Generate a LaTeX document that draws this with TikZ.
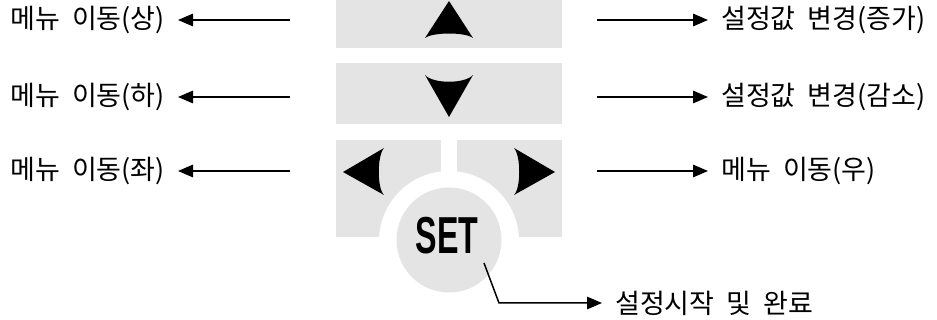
\documentclass[tikz,border=0pt]{standalone}
\usepackage{graphicx}
\usepackage{fontspec}
\setmainfont{Noto Sans CJK KR}
\newfontfamily\setfont{Liberation Sans}
\usetikzlibrary{arrows.meta}
\definecolor{keygray}{RGB}{228,228,228}
\newcommand\lblfont{\fontsize{27}{30}\selectfont\spaceskip=0.45em plus 0em\relax}
\tikzset{
  lbl/.style={font=\lblfont, inner ysep=0pt, inner xsep=13pt},
  arr/.style={-{Triangle[length=15pt,width=12.5pt]}, line width=1.5pt},
  key/.style={fill=keygray},
  tri/.style={fill=black}
}
\begin{document}
\begin{tikzpicture}[x=1pt,y=-1pt]
\useasboundingbox (0,0) rectangle (937,320);
% keys
\fill[key] (336,0) rectangle (562,48);
\fill[key] (336,63) rectangle (562,124);
\fill[key] (336,140) rectangle (441,237);
\fill[key] (457,140) rectangle (562,237);
\fill[white] (449,241) circle[radius=70];
\fill[key] (449,240) circle[radius=52.5];
% triangles
\fill[tri] (449,1) -- (473,38) .. controls (465,32) and (433,32) .. (425,38) -- cycle;
\fill[tri] (449,117) -- (473,75) .. controls (465,84) and (433,84) .. (425,75) -- cycle;
\fill[tri] (343,172) -- (384,148) .. controls (377,156) and (377,188) .. (384,195) -- cycle;
\fill[tri] (555,172) -- (514,148) .. controls (521,156) and (521,188) .. (514,195) -- cycle;
% SET
\node[inner sep=0pt] (set) at (447,236) {\setfont\bfseries\fontsize{52}{52}\selectfont\scalebox{0.62}[1]{SET}};
% left labels
\node[lbl,anchor=east] (l1) at (178,20) {메뉴 이동(상)};
\node[lbl,anchor=east] (l2) at (178,97) {메뉴 이동(하)};
\node[lbl,anchor=east] (l3) at (178,171) {메뉴 이동(좌)};
\coordinate (a1) at (290,20);
\coordinate (a2) at (290,97);
\coordinate (a3) at (290,171);
\draw[arr] (a1) -- (l1);
\draw[arr] (a2) -- (l2);
\draw[arr] (a3) -- (l3);
% right labels
\node[lbl,anchor=west] (r1) at (708,20) {설정값 변경(증가)};
\node[lbl,anchor=west] (r2) at (708,97) {설정값 변경(감소)};
\node[lbl,anchor=west] (r3) at (708,171) {메뉴 이동(우)};
\coordinate (b1) at (597,20);
\coordinate (b2) at (597,97);
\coordinate (b3) at (597,171);
\draw[arr] (b1) -- (r1);
\draw[arr] (b2) -- (r2);
\draw[arr] (b3) -- (r3);
% SET leader
\node[lbl,anchor=west] (s1) at (602,303) {설정시작 및 완료};
\coordinate (c1) at (484,263);
\coordinate (c2) at (499,303);
\draw[arr] (c1) -- (c2) -- (s1.west);
\end{tikzpicture}
\end{document}
